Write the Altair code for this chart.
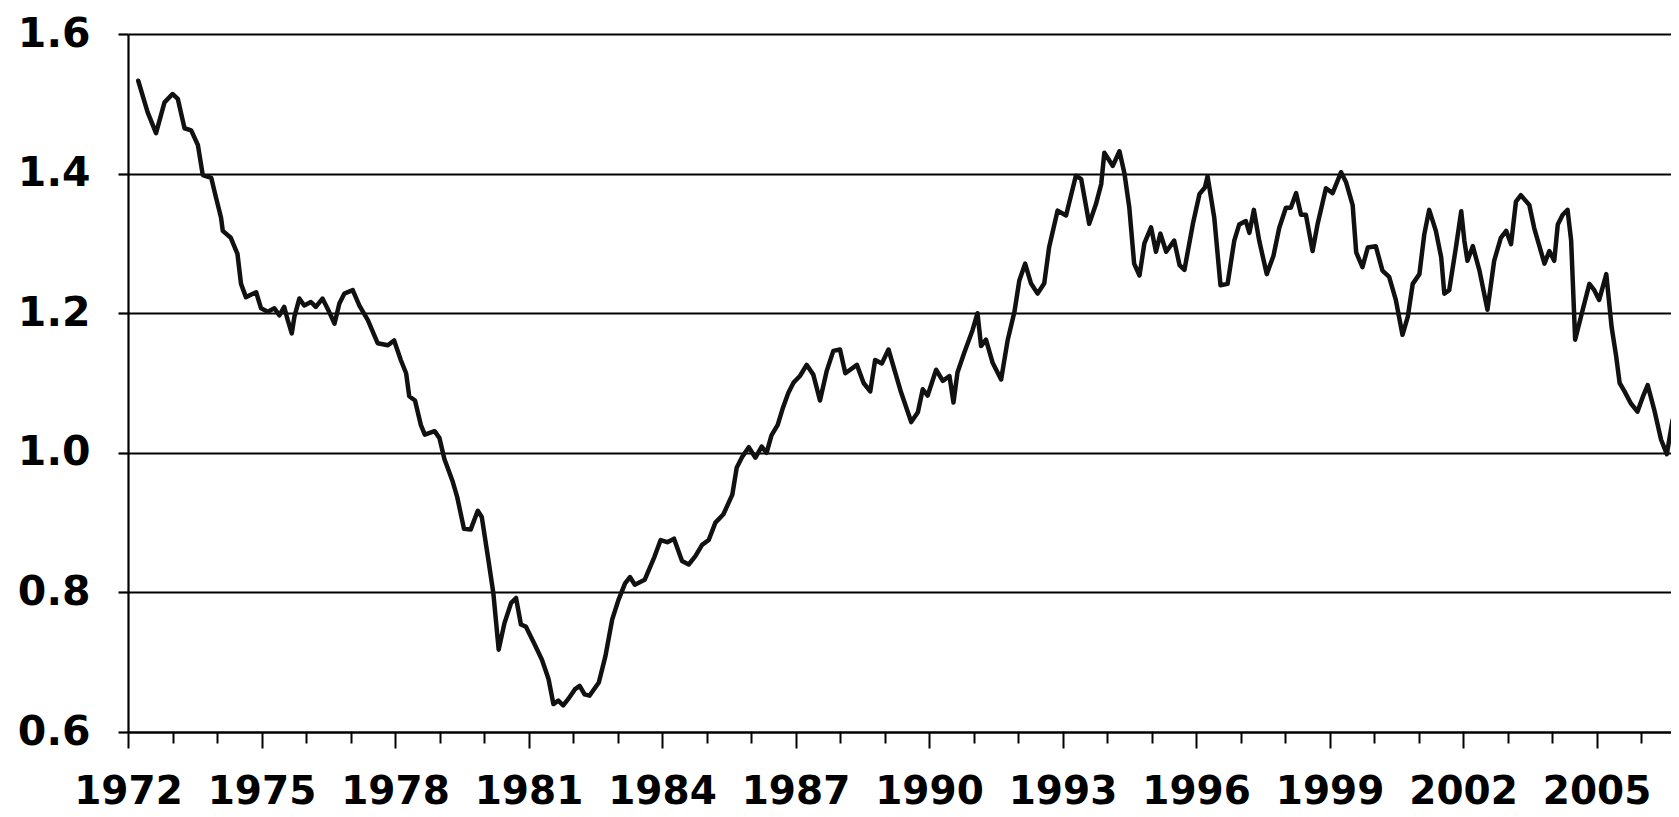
import altair as alt
import pandas as pd

years = [
    1972.23, 1972.44, 1972.63, 1972.82, 1973.00, 1973.12, 1973.27, 1973.42, 1973.57, 1973.68,
    1973.87, 1973.98, 1974.09, 1974.13, 1974.31, 1974.46, 1974.54, 1974.65, 1974.88, 1974.99,
    1975.14, 1975.29, 1975.40, 1975.51, 1975.59, 1975.68, 1975.74, 1975.85, 1975.96, 1976.11,
    1976.22, 1976.37, 1976.52, 1976.64, 1976.75, 1976.86, 1977.05, 1977.20, 1977.39, 1977.61,
    1977.84, 1977.98, 1978.13, 1978.25, 1978.32, 1978.45, 1978.58, 1978.67, 1978.89, 1979.00,
    1979.11, 1979.29, 1979.40, 1979.55, 1979.70, 1979.86, 1979.95, 1980.10, 1980.21, 1980.33,
    1980.46, 1980.61, 1980.72, 1980.83, 1980.94, 1981.12, 1981.30, 1981.45, 1981.56, 1981.67,
    1981.78, 1981.89, 1982.04, 1982.15, 1982.26, 1982.37, 1982.58, 1982.73, 1982.88, 1983.02,
    1983.17, 1983.28, 1983.39, 1983.61, 1983.83, 1983.97, 1984.12, 1984.27, 1984.45, 1984.60,
    1984.75, 1984.90, 1985.05, 1985.20, 1985.38, 1985.58, 1985.68, 1985.80, 1985.95, 1986.10,
    1986.24, 1986.35, 1986.46, 1986.60, 1986.72, 1986.84, 1986.96, 1987.10, 1987.25, 1987.40,
    1987.55, 1987.70, 1987.85, 1988.00, 1988.12, 1988.38, 1988.53, 1988.68, 1988.79, 1988.94,
    1989.09, 1989.20, 1989.37, 1989.60, 1989.75, 1989.86, 1989.97, 1990.16, 1990.31, 1990.46,
    1990.55, 1990.64, 1990.79, 1990.98, 1991.09, 1991.17, 1991.28, 1991.43, 1991.62, 1991.77,
    1991.92, 1992.03, 1992.16, 1992.29, 1992.44, 1992.59, 1992.70, 1992.89, 1993.08, 1993.30,
    1993.42, 1993.60, 1993.75, 1993.87, 1993.94, 1994.13, 1994.28, 1994.39, 1994.50, 1994.61,
    1994.73, 1994.84, 1994.99, 1995.10, 1995.20, 1995.33, 1995.51, 1995.63, 1995.74, 1995.93,
    1996.08, 1996.20, 1996.26, 1996.41, 1996.55, 1996.71, 1996.86, 1996.97, 1997.12, 1997.20,
    1997.30, 1997.42, 1997.59, 1997.74, 1997.87, 1998.02, 1998.13, 1998.25, 1998.36, 1998.47,
    1998.62, 1998.73, 1998.92, 1999.07, 1999.26, 1999.37, 1999.52, 1999.60, 1999.74, 1999.86,
    2000.04, 2000.19, 2000.34, 2000.49, 2000.64, 2000.76, 2000.87, 2001.02, 2001.13, 2001.24,
    2001.39, 2001.51, 2001.58, 2001.69, 2001.84, 2001.96, 2002.03, 2002.10, 2002.22, 2002.37,
    2002.55, 2002.70, 2002.85, 2002.97, 2003.08, 2003.19, 2003.30, 2003.49, 2003.60, 2003.83,
    2003.94, 2004.05, 2004.13, 2004.24, 2004.35, 2004.43, 2004.52, 2004.65, 2004.84, 2004.95,
    2005.06, 2005.22, 2005.34, 2005.44, 2005.52, 2005.63, 2005.77, 2005.92, 2006.04, 2006.15,
    2006.30, 2006.45, 2006.58, 2006.71, 2006.86, 2006.92,
]

values = [
    1.533, 1.488, 1.458, 1.502, 1.514, 1.507, 1.465, 1.462, 1.441, 1.398,
    1.394, 1.365, 1.337, 1.318, 1.308, 1.285, 1.242, 1.223, 1.230, 1.207,
    1.202, 1.207, 1.197, 1.209, 1.190, 1.171, 1.195, 1.221, 1.211, 1.216,
    1.209, 1.221, 1.202, 1.185, 1.214, 1.228, 1.233, 1.211, 1.190, 1.157,
    1.154, 1.161, 1.133, 1.114, 1.081, 1.075, 1.040, 1.026, 1.031, 1.021,
    0.991, 0.960, 0.936, 0.891, 0.890, 0.917, 0.908, 0.846, 0.799, 0.718,
    0.756, 0.785, 0.792, 0.754, 0.751, 0.728, 0.704, 0.676, 0.640, 0.645,
    0.638, 0.647, 0.661, 0.666, 0.654, 0.652, 0.671, 0.709, 0.761, 0.789,
    0.813, 0.822, 0.811, 0.818, 0.851, 0.875, 0.872, 0.877, 0.845, 0.840,
    0.852, 0.868, 0.875, 0.900, 0.912, 0.940, 0.979, 0.994, 1.008, 0.993,
    1.009, 1.000, 1.025, 1.040, 1.065, 1.086, 1.101, 1.110, 1.126, 1.112,
    1.075, 1.117, 1.146, 1.148, 1.114, 1.126, 1.100, 1.088, 1.133, 1.128,
    1.148, 1.124, 1.087, 1.044, 1.058, 1.091, 1.082, 1.119, 1.103, 1.110,
    1.072, 1.115, 1.143, 1.176, 1.200, 1.153, 1.162, 1.129, 1.105, 1.162,
    1.202, 1.247, 1.271, 1.243, 1.228, 1.243, 1.295, 1.347, 1.340, 1.397,
    1.392, 1.328, 1.356, 1.385, 1.430, 1.411, 1.432, 1.401, 1.352, 1.271,
    1.254, 1.300, 1.323, 1.288, 1.314, 1.288, 1.304, 1.269, 1.262, 1.328,
    1.371, 1.380, 1.396, 1.337, 1.240, 1.242, 1.304, 1.327, 1.332, 1.315,
    1.348, 1.304, 1.256, 1.282, 1.322, 1.351, 1.351, 1.372, 1.341, 1.341,
    1.289, 1.327, 1.379, 1.372, 1.402, 1.388, 1.355, 1.287, 1.266, 1.294,
    1.296, 1.261, 1.252, 1.219, 1.169, 1.195, 1.242, 1.256, 1.313, 1.348,
    1.318, 1.280, 1.228, 1.233, 1.294, 1.346, 1.304, 1.275, 1.296, 1.261,
    1.205, 1.275, 1.308, 1.318, 1.299, 1.360, 1.369, 1.355, 1.322, 1.271,
    1.289, 1.275, 1.327, 1.341, 1.348, 1.304, 1.162, 1.195, 1.242, 1.233,
    1.219, 1.256, 1.180, 1.139, 1.100, 1.088, 1.071, 1.059, 1.080, 1.097,
    1.061, 1.019, 0.998, 1.047, 1.071, 1.078,
]

x_ticks = list(range(1972, 2007))
y_ticks = [0.6, 0.8, 1.0, 1.2, 1.4, 1.6]

df = pd.DataFrame({"year": years, "value": values})

FONT = "DejaVu Sans"

chart = (
    alt.Chart(df)
    .mark_line(color="#111111", strokeWidth=4.5, strokeJoin="round", strokeCap="round", clip=True)
    .encode(
        x=alt.X(
            "year:Q",
            scale=alt.Scale(domain=[1972, 2006.674], nice=False, zero=False),
            axis=alt.Axis(
                title=None,
                values=x_ticks,
                format="d",
                labelExpr="datum.value % 3 == 1 ? datum.label : ''",
                grid=False,
                domainColor="black",
                domainWidth=2.2,
                tickColor="black",
                tickWidth=2,
                tickSize={"condition": {"test": "datum.value % 3 == 1", "value": 16}, "value": 11},
                labelFont=FONT,
                labelFontWeight="bold",
                labelFontSize=39,
                labelColor="black",
                labelPadding=24,
                labelOverlap=False,
                labelFlush=False,
            ),
        ),
        y=alt.Y(
            "value:Q",
            scale=alt.Scale(domain=[0.6, 1.6], nice=False, zero=False),
            axis=alt.Axis(
                title=None,
                values=y_ticks,
                format=".1f",
                grid=True,
                gridColor="black",
                gridWidth=2.2,
                gridOpacity=1,
                domainColor="black",
                domainWidth=2.2,
                tickColor="black",
                tickWidth=2.2,
                tickSize=10,
                labelFont=FONT,
                labelFontWeight="bold",
                labelFontSize=41,
                labelColor="black",
                labelPadding=28,
            ),
        ),
    )
    .properties(
        width=1543,
        height=698,
        autosize=alt.AutoSizeParams(type="none"),
        padding={"left": 120, "top": 26, "right": 0, "bottom": 85},
        background="white",
    )
    .configure_view(stroke=None)
)

chart.save("out.html", embed_options={"renderer": "svg", "actions": False})
